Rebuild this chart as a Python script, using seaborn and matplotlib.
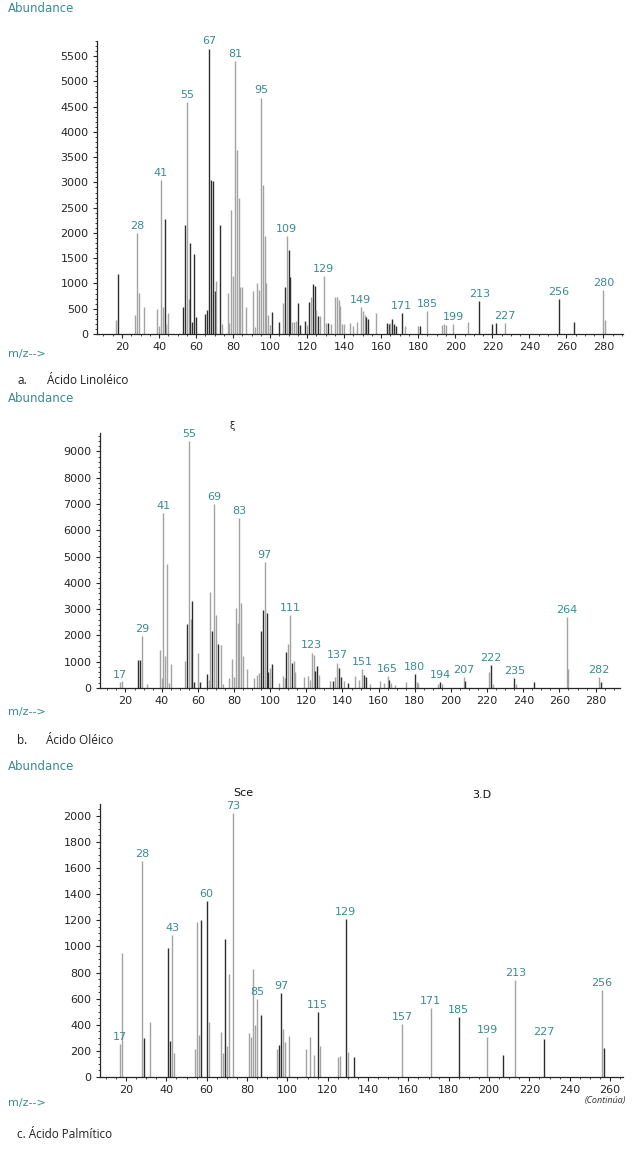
import matplotlib
matplotlib.use("Agg")
import matplotlib.pyplot as plt
import seaborn as sns
from matplotlib.ticker import MultipleLocator

# a. Acido Linoleico
mz_a = [17, 18, 27, 28, 29, 32, 39, 40, 41, 42, 43, 44, 45, 53, 54, 55, 56, 57, 58, 59, 60,
        65, 66, 67, 68, 69, 70, 71, 73, 74, 77, 78, 79, 80, 81, 82, 83, 84, 85, 87,
        91, 92, 93, 94, 95, 96, 97, 98, 99, 100, 101, 105, 107, 108, 109, 110, 111, 112,
        113, 114, 115, 116, 119, 120, 121, 122, 123, 124, 125, 126, 127, 129, 130, 131,
        133, 135, 136, 137, 138, 139, 140, 143, 145, 147, 149, 150, 151, 152, 153, 157,
        163, 164, 165, 166, 167, 168, 171, 173, 180, 181, 185, 193, 194, 195, 199, 207,
        213, 220, 222, 227, 256, 264, 280, 281]
ab_a = [280, 1190, 370, 2000, 810, 530, 500, 150, 3050, 540, 2270, 200, 410, 540, 2150, 4600,
        700, 1800, 240, 1580, 340, 400, 470, 5650, 3050, 3020, 860, 1040, 2150, 200, 810, 220,
        2450, 1140, 5400, 3650, 2700, 940, 940, 530, 860, 130, 1010, 880, 4680, 2950, 1940,
        1010, 380, 180, 430, 240, 610, 940, 1940, 1660, 1120, 230, 240, 260, 615, 170, 250,
        180, 640, 730, 995, 955, 470, 360, 360, 1150, 220, 220, 200, 730, 730, 680, 550, 200,
        200, 220, 160, 230, 530, 450, 380, 330, 300, 410, 220, 200, 220, 300, 200, 160, 410,
        160, 160, 160, 450, 170, 200, 180, 190, 240, 650, 200, 220, 210, 700, 240, 870, 280]
dark_a = [18, 43, 53, 54, 57, 58, 59, 60, 65, 66, 67, 68, 69, 70, 73, 101, 105, 108, 110, 111,
          115, 116, 119, 121, 123, 124, 126, 131, 152, 153, 163, 164, 166, 167, 168, 171, 181,
          213, 220, 222, 256, 264]
lab_a = [28, 41, 55, 67, 81, 95, 109, 129, 149, 171, 185, 199, 213, 227, 256, 280]

# b. Acido Oleico
mz_b = [17, 18, 27, 28, 29, 32, 39, 40, 41, 42, 43, 44, 45, 53, 54, 55, 56, 57, 58, 60, 61,
        65, 66, 67, 68, 69, 70, 71, 73, 74, 77, 79, 80, 81, 82, 83, 84, 85, 87, 91, 93, 94,
        95, 96, 97, 98, 99, 100, 101, 105, 107, 108, 109, 110, 111, 112, 113, 114, 119, 121,
        122, 123, 124, 125, 126, 127, 133, 135, 136, 137, 138, 139, 141, 143, 147, 149, 151,
        152, 153, 155, 161, 163, 165, 166, 167, 169, 175, 180, 181, 182, 193, 194, 195, 207,
        208, 221, 222, 223, 235, 236, 246, 264, 265, 282, 283]
ab_b = [230, 250, 1060, 1050, 1980, 170, 1450, 380, 6650, 1220, 4700, 200, 920, 1030, 2440,
        9400, 2630, 3320, 240, 1330, 240, 530, 300, 3650, 2180, 7000, 2780, 1670, 1650, 170,
        390, 1110, 400, 3060, 2480, 6450, 3240, 1220, 720, 380, 500, 560, 2150, 2960, 4800,
        2860, 620, 770, 920, 200, 460, 380, 1380, 1680, 2780, 960, 1030, 600, 420, 450, 300,
        1350, 1260, 660, 830, 500, 250, 280, 400, 970, 760, 420, 270, 200, 460, 300, 730, 500,
        420, 160, 260, 180, 460, 320, 200, 130, 210, 540, 230, 180, 170, 210, 150, 430, 250,
        620, 880, 150, 380, 150, 210, 2710, 730, 410, 240]
dark_b = [27, 28, 54, 57, 58, 61, 65, 68, 71, 95, 96, 98, 99, 101, 109, 112, 125, 126, 135,
          138, 139, 143, 152, 153, 166, 180, 194, 208, 222, 235, 246, 283]
lab_b = [17, 29, 41, 55, 69, 83, 97, 111, 123, 137, 151, 165, 180, 194, 207, 222, 235, 264, 282]

# c. Acido Palmitico
mz_c = [17, 18, 28, 29, 32, 41, 42, 43, 44, 54, 55, 56, 57, 60, 61, 67, 68, 69, 70, 71, 73,
        81, 82, 83, 84, 85, 87, 95, 96, 97, 98, 99, 101, 109, 111, 113, 115, 116, 125, 126,
        129, 130, 133, 157, 171, 185, 199, 207, 213, 227, 256, 257]
ab_c = [250, 950, 1650, 296, 420, 990, 276, 1090, 186, 214, 1190, 322, 1200, 1350, 420, 348,
        180, 1057, 240, 787, 2020, 335, 309, 825, 396, 595, 475, 212, 245, 641, 365, 271, 314,
        214, 306, 170, 495, 235, 153, 163, 1210, 191, 153, 408, 528, 460, 306, 170, 745, 293,
        668, 222]
dark_c = [29, 41, 42, 57, 60, 69, 87, 96, 97, 115, 129, 133, 185, 207, 227, 257]
lab_c = [17, 28, 43, 60, 73, 85, 97, 115, 129, 157, 171, 185, 199, 213, 227, 256]

W, H = 635, 1151
TEAL = "#3a8c8e"
DARK = "#2e2e2e"
LIGHT = "#a3a3a3"

sns.set_style("ticks")
plt.rcParams["font.family"] = ["DejaVu Sans"]
plt.rcParams["axes.linewidth"] = 0.9

fig = plt.figure(figsize=(W / 100, H / 100), dpi=100)


def px_rect(x0, y_top, x1, y_bot):
    return [x0 / W, 1 - y_bot / H, (x1 - x0) / W, (y_bot - y_top) / H]


def draw_spectrum(ax, mz, ab, dark, labels, xlim, ylim, ymaj, ymin):
    cols = [DARK if m in dark else LIGHT for m in mz]
    ax.vlines(mz, 0, ab, colors=cols, linewidth=1.0)
    for m, a in zip(mz, ab):
        if m in labels:
            ax.annotate(str(m), (m, a), xytext=(0, 1.5), textcoords="offset points",
                        ha="center", va="bottom", color=TEAL, fontsize=8)
    ax.set_xlim(*xlim)
    ax.set_ylim(*ylim)
    ax.xaxis.set_major_locator(MultipleLocator(20))
    ax.xaxis.set_minor_locator(MultipleLocator(5))
    ax.yaxis.set_major_locator(MultipleLocator(ymaj))
    ax.yaxis.set_minor_locator(MultipleLocator(ymin))
    ax.tick_params(which="major", direction="out", length=3, width=0.8, labelsize=8, pad=3)
    ax.tick_params(which="minor", direction="out", length=1.5, width=0.6)
    sns.despine(ax=ax)


ax_a = fig.add_axes(px_rect(97, 41, 623, 334))
draw_spectrum(ax_a, mz_a, ab_a, dark_a, lab_a, (6.5, 290.6), (0, 5800), 500, 100)
ax_b = fig.add_axes(px_rect(100, 433, 620, 688))
draw_spectrum(ax_b, mz_b, ab_b, dark_b, lab_b, (5.9, 293.5), (0, 9700), 1000, 200)
ax_c = fig.add_axes(px_rect(100, 804, 623, 1077))
draw_spectrum(ax_c, mz_c, ab_c, dark_c, lab_c, (7.1, 266.4), (0, 2090), 200, 50)


def ptext(x, y, s, **kw):
    fig.text(x / W, 1 - y / H, s, va="center", **kw)


for y in (9, 399, 767):
    ptext(8, y, "Abundance", color=TEAL, fontsize=8.5)
for y in (354, 712, 1103):
    ptext(8, y, "m/z-->", color=TEAL, fontsize=8)

cap = dict(family=["Open Sans", "DejaVu Sans"], fontsize=8.5, color="#222222")
ptext(17, 381, "a.", **cap)
ptext(47, 381, "Ácido Linoléico", **cap)
ptext(17, 740, "b.", **cap)
ptext(46, 740, "Ácido Oléico", **cap)
ptext(17, 1135, "c. Ácido Palmítico", **cap)

ptext(232, 426, "ξ", fontsize=7, color="#222222", ha="center")
ptext(243, 793, "Sce", fontsize=8, color="#111111", ha="center")
ptext(482, 795, "3.D", fontsize=8, color="#111111", ha="center")
ptext(605, 1101, "(Continúa)", fontsize=6.5, style="italic", color="#333333", ha="center",
      family=["Open Sans", "DejaVu Sans"])

fig.savefig("out.png", dpi=100)
